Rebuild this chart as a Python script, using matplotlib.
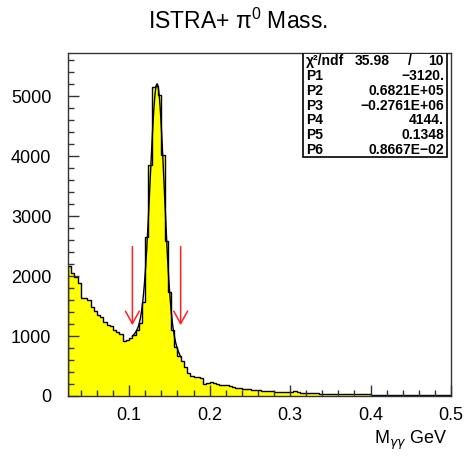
import matplotlib.pyplot as plt
import numpy as np
from matplotlib.ticker import MultipleLocator

plt.rcParams['font.family'] = ['Liberation Sans', 'DejaVu Sans']

# histogram: 0.004 GeV bins starting at 0.024 GeV
bin_lo = 0.024
bin_width = 0.004
counts = [2170, 2050, 1990, 1880, 1640, 1630, 1600, 1490, 1420, 1350,
          1320, 1240, 1185, 1160, 1100, 1060, 1035, 920, 930, 965,
          1020, 1100, 1220, 1570, 2650, 3850, 5150, 5170, 5020, 4020,
          2580, 1740, 1100, 820, 660, 580, 490, 385, 330, 315,
          310, 305, 200, 215, 240, 215, 195, 185, 183, 180,
          160, 145, 140, 138, 120, 112, 110, 108, 100, 92,
          90, 88, 86, 80, 74, 72, 68, 65, 62, 60,
          84, 60, 55, 52, 46, 45, 44, 42, 40, 38,
          36, 35, 34, 33, 32, 31, 30, 30, 29, 28,
          27, 27, 26, 26, 25, 24, 24, 23, 23, 22,
          22, 21, 21, 20, 20, 19, 19, 19, 18, 18,
          18, 17, 17, 17, 16, 16, 16, 15, 15]

# fit parameters (pol2 + gaus) as shown in the stats box
fit_names = ['P1', 'P2', 'P3', 'P4', 'P5', 'P6']
fit_text = ['\u22123120.', '0.6821E+05', '\u22120.2761E+06', '4144.', '0.1348', '0.8667E\u221202']
fit_pars = [-3120., 0.6821e5, -0.2761e6, 4144., 0.1348, 0.8667e-2]
chi2, ndf = '35.98', '10'
fit_range = (0.104, 0.164)

# arrows marking the signal window
arrow_x = [0.104, 0.164]
arrow_top, arrow_tip = 2490, 1180


def fit_func(x, p):
    return p[0] + p[1] * x + p[2] * x ** 2 + p[3] * np.exp(-0.5 * ((x - p[4]) / p[5]) ** 2)


fig = plt.figure(figsize=(4.67, 4.59), dpi=100)
ax = fig.add_axes([68 / 467, 1 - 396 / 459, 383 / 467, 343.3 / 459])

edges = bin_lo + bin_width * np.arange(len(counts) + 1)
ax.stairs(counts, edges, fill=True, color='#ffff00', baseline=0)
ax.stairs(counts, edges, color='black', linewidth=1.0, baseline=0)

xf = np.linspace(fit_range[0], fit_range[1], 300)
ax.plot(xf, fit_func(xf, fit_pars), color='black', linewidth=1.0)

for xa in arrow_x:
    ax.annotate('', xy=(xa, arrow_tip), xytext=(xa, arrow_top),
                arrowprops=dict(arrowstyle='->,head_length=0.45,head_width=0.25',
                                color='#ff2020', linewidth=1.1,
                                shrinkA=0, shrinkB=0, mutation_scale=20))

ax.set_xlim(bin_lo, 0.5)
ax.set_ylim(0, 5722)
ax.xaxis.set_major_locator(MultipleLocator(0.1))
ax.xaxis.set_minor_locator(MultipleLocator(0.02))
ax.yaxis.set_major_locator(MultipleLocator(1000))
ax.yaxis.set_minor_locator(MultipleLocator(200))
ax.xaxis.set_major_formatter(plt.FuncFormatter(lambda v, pos: '%g' % v))
ax.tick_params(which='both', direction='in', top=False, right=False,
               labelsize=13, width=1.0, color='#333333')
ax.tick_params(which='major', length=8)
ax.tick_params(which='minor', length=4)
ax.tick_params(axis='y', pad=12)
ax.tick_params(axis='x', pad=8)
for lab in ax.get_xticklabels() + ax.get_yticklabels():
    lab.set_fontweight('medium')
for s in ax.spines.values():
    s.set_linewidth(1.0)
    s.set_color('#333333')

# title and axis label
fig.text(238 / 467, 1 - 21 / 459, 'ISTRA+ \u03c0$^{\\mathregular{0}}$ Mass.', ha='center', va='center', fontsize=16.5)
fig.text(448 / 467, 1 - 440 / 459, 'M$_{\\gamma\\gamma}$ GeV', ha='right', va='center', fontsize=13)

# stats box
bx0, bx1 = (303 - 68) / 383, (447 - 68) / 383
by_top = (396 - 52.7) / 343.3
by_bot = (396 - 157) / 343.3
ax.add_patch(plt.Rectangle((bx0, by_bot), bx1 - bx0, by_top - by_bot, transform=ax.transAxes,
                           facecolor='white', edgecolor='black', linewidth=1.2, zorder=5))
row_h = (by_top - by_bot) / 7
tx_l = (306 - 68) / 383
tx_r = (444 - 68) / 383
fs = 10
kw = dict(transform=ax.transAxes, fontsize=fs, va='center', fontweight='bold', zorder=6)
ytxt = by_top - row_h * 0.55
ax.text(tx_l, ytxt, '\u03c7\u00b2/ndf', **kw)
ax.text((390 - 68) / 383, ytxt, chi2, ha='right', **kw)
ax.text((410 - 68) / 383, ytxt, '/', ha='center', **kw)
ax.text(tx_r, ytxt, ndf, ha='right', **kw)
for i, (nm, val) in enumerate(zip(fit_names, fit_text)):
    yy = by_top - row_h * (i + 1.55)
    ax.text(tx_l, yy, nm, **kw)
    ax.text(tx_r, yy, val, ha='right', **kw)

fig.savefig('out.png', dpi=100)
